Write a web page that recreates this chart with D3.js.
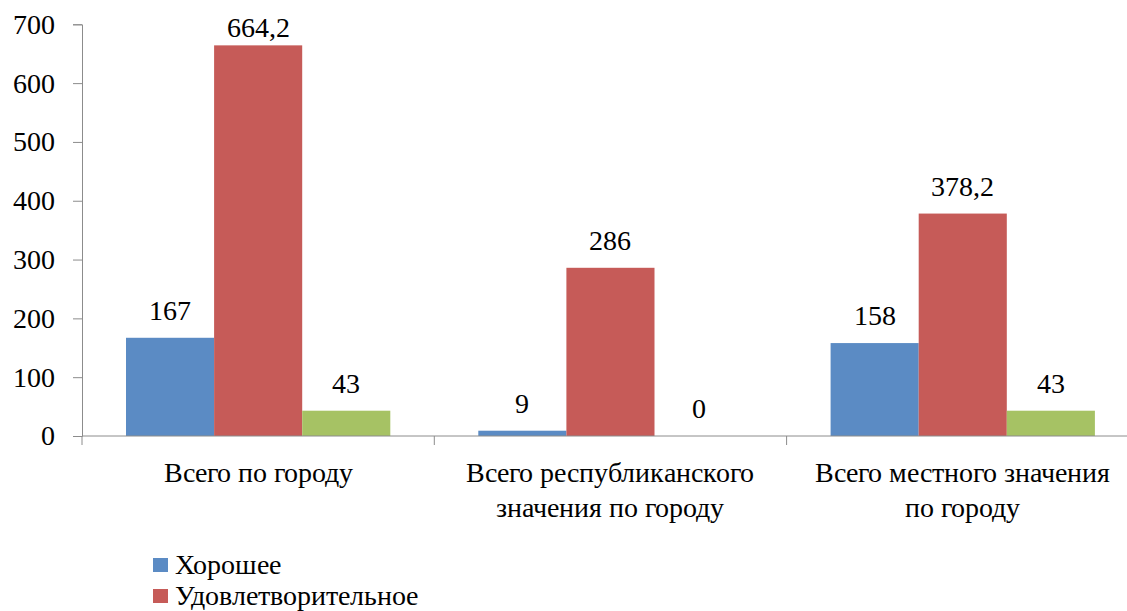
<!DOCTYPE html>
<html>
<head>
<meta charset="utf-8">
<script src="https://cdn.jsdelivr.net/npm/d3@7"></script>
<style>
  @font-face { font-family: 'ChartSerif'; src: local('Liberation Serif'), local('LiberationSerif'), local('Tinos'), local('FreeSerif'); }
  body { margin: 0; background: #fff; }
</style>
</head>
<body>
<svg id="chart" width="1127" height="611"></svg>
<script>
// chart data
const categories = ['Всего по городу', 'Всего республиканского значения по городу', 'Всего местного значения по городу'];
const seriesNames = ['Хорошее', 'Удовлетворительное', 'Неудовлетворительное'];
const good = [167, 9, 158];
const satisfactory = [664.2, 286, 378.2];
const unsatisfactory = [43, 0, 43];
const yTicks = [0, 100, 200, 300, 400, 500, 600, 700];

const colors = ['#5b8bc4', '#c65b58', '#a6c264'];
const seriesValues = [good, satisfactory, unsatisfactory];
const fontName = "ChartSerif, 'Liberation Serif', Tinos, FreeSerif";

const axisLeftX = 82;
const groupWidth = 352.3;
const baseY = 436;
const topY = 24.3;

// "664,2" style numbers
const locale = d3.formatLocale({ decimal: ',', thousands: ' ', grouping: [3], currency: ['', ''] });
const fmt = v => Number.isInteger(v) ? String(v) : locale.format('.1f')(v);

const svg = d3.select('#chart').style('font-family', fontName);

// scales
const x = d3.scaleBand()
  .domain(categories)
  .range([axisLeftX, axisLeftX + groupWidth * categories.length])
  .padding(0);

const xInner = d3.scaleBand()
  .domain(seriesNames)
  .range([44, groupWidth - 44])
  .padding(0);

const y = d3.scaleLinear()
  .domain([0, 700])
  .range([baseY, topY]);

// bars
const groups = svg.selectAll('g.group')
  .data(categories)
  .enter()
  .append('g')
  .attr('class', 'group')
  .attr('transform', d => `translate(${x(d)},0)`);

groups.each(function (cat, ci) {
  const g = d3.select(this);
  const rows = seriesNames.map((s, si) => ({ s, si, v: seriesValues[si][ci] }));

  g.selectAll('rect')
    .data(rows)
    .enter()
    .append('rect')
    .attr('x', d => xInner(d.s))
    .attr('y', d => y(d.v))
    .attr('width', xInner.bandwidth())
    .attr('height', d => baseY - y(d.v))
    .attr('fill', d => colors[d.si]);

  g.selectAll('text.val')
    .data(rows)
    .enter()
    .append('text')
    .attr('class', 'val')
    .attr('x', d => xInner(d.s) + xInner.bandwidth() / 2)
    .attr('y', d => Math.max(y(d.v) - 18, 36.5))
    .attr('text-anchor', 'middle')
    .style('font-family', fontName)
    .style('font-size', '28px')
    .text(d => fmt(d.v));
});

// y axis
const yAxis = svg.append('g')
  .attr('transform', `translate(${axisLeftX},0)`)
  .call(d3.axisLeft(y).tickValues(yTicks).tickSize(9).tickPadding(18).tickFormat(d => d));
yAxis.attr('font-family', null).attr('font-size', null);
yAxis.selectAll('path, line').attr('stroke', '#8c8c8c');
yAxis.selectAll('text')
  .style('font-family', fontName)
  .style('font-size', '28px')
  .attr('fill', '#000');

// x axis
const xAxis = svg.append('g');
xAxis.append('line')
  .attr('x1', axisLeftX).attr('x2', x.range()[1])
  .attr('y1', baseY).attr('y2', baseY)
  .attr('stroke', '#8c8c8c');
const bounds = categories.map(c => x(c)).concat([x.range()[1]]);
xAxis.selectAll('line.tick')
  .data(bounds)
  .enter()
  .append('line')
  .attr('class', 'tick')
  .attr('x1', d => d).attr('x2', d => d)
  .attr('y1', baseY).attr('y2', baseY + 9)
  .attr('stroke', '#8c8c8c');

// category labels, wrapped
const catLabels = xAxis.selectAll('text.cat')
  .data(categories)
  .enter()
  .append('text')
  .attr('class', 'cat')
  .attr('x', d => x(d) + x.bandwidth() / 2)
  .attr('y', 482)
  .attr('text-anchor', 'middle')
  .style('font-family', fontName)
  .style('font-size', '28px');

catLabels.each(function (d) {
  const t = d3.select(this);
  const words = d.split(' ');
  let line = [];
  let tspan = t.append('tspan').attr('x', t.attr('x')).attr('dy', 0);
  words.forEach(w => {
    line.push(w);
    tspan.text(line.join(' '));
    if (tspan.node().getComputedTextLength() > 330 && line.length > 1) {
      line.pop();
      tspan.text(line.join(' '));
      line = [w];
      tspan = t.append('tspan').attr('x', t.attr('x')).attr('dy', 35).text(w);
    }
  });
});

// legend (the third entry lies below the visible area in the reference)
const legend = svg.selectAll('g.legend')
  .data(seriesNames.slice(0, 2))
  .enter()
  .append('g')
  .attr('class', 'legend')
  .attr('transform', (d, i) => `translate(153,${558 + i * 31})`);

legend.append('rect')
  .attr('width', 15)
  .attr('height', 14)
  .attr('fill', (d, i) => colors[i]);

legend.append('text')
  .attr('x', 22)
  .attr('y', 16)
  .style('font-family', fontName)
  .style('font-size', '28px')
  .text(d => d);
</script>
</body>
</html>
